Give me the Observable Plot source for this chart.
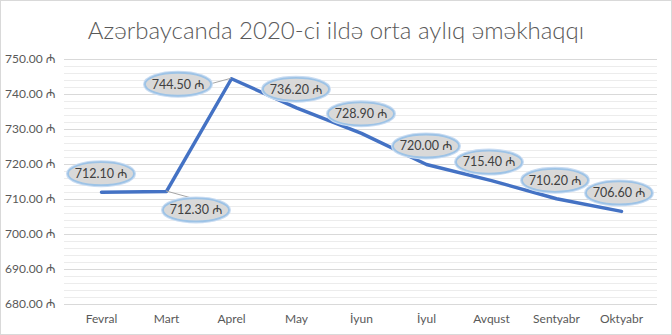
<!DOCTYPE html>
<html>
<head>
<meta charset="utf-8">
<script src="https://cdn.jsdelivr.net/npm/d3@7"></script>
<script src="https://cdn.jsdelivr.net/npm/@observablehq/plot@0.6"></script>
<style>
  html, body { margin: 0; padding: 0; background: #fff; }
  #wrap { width: 672px; height: 335px; box-sizing: border-box; border: 1px solid #d9d9d9; background: #fff; overflow: hidden; }
  #title { height: 48px; line-height: 58px; text-align: center; font-family: Lato, "Noto Sans", sans-serif; font-weight: 300; font-size: 24px; color: #595959; white-space: nowrap; }
  svg { display: block; }
</style>
</head>
<body>
<div id="wrap">
  <div id="title">Azərbaycanda 2020-ci ildə orta aylıq əməkhaqqı</div>
  <div id="chart"></div>
</div>
<script>
const months = ["Fevral", "Mart", "Aprel", "May", "İyun", "İyul", "Avqust", "Sentyabr", "Oktyabr"];
const values = [712.10, 712.30, 744.50, 736.20, 728.90, 720.00, 715.40, 710.20, 706.60];
const yTicks = [680, 690, 700, 710, 720, 730, 740, 750];
const yMinor = d3.range(680, 751, 2);

// label placement (pixel offsets from the point) and leader-line ends
const labelOffsets = [[0,-18],[30,19],[-53,6],[0,-18],[0,-19],[0,-18],[-2,-18],[-1,-18],[-2,-18]];
const leaderEnds = [null,[29,8],[-22,6],null,null,null,null,null,null];

const data = months.map((m, i) => ({month: m, value: values[i]}));
const fmt = v => v.toFixed(2) + " ₼";

function labels(index, scales) {
  const x = scales.x, y = scales.y;
  const g = d3.create("svg:g");
  data.forEach((d, i) => {
    const px = x(d.month), py = y(d.value);
    const cx = px + labelOffsets[i][0], cy = py + labelOffsets[i][1];
    if (leaderEnds[i]) {
      g.append("line").attr("x1", px).attr("y1", py)
        .attr("x2", px + leaderEnds[i][0]).attr("y2", py + leaderEnds[i][1])
        .attr("stroke", "#a6a6a6").attr("stroke-width", 1);
    }
    g.append("ellipse").attr("cx", cx).attr("cy", cy).attr("rx", 33).attr("ry", 11.5)
      .attr("fill", "none").attr("stroke", "#c9dcf2").attr("stroke-width", 4);
    g.append("ellipse").attr("cx", cx).attr("cy", cy).attr("rx", 33).attr("ry", 11.5)
      .attr("fill", "#d9d9d9").attr("stroke", "#9dc3e6").attr("stroke-width", 1.8);
    g.append("text").attr("x", cx).attr("y", cy).attr("dy", "0.35em")
      .attr("text-anchor", "middle").attr("fill", "#404040")
      .attr("font-family", "Lato, 'Noto Sans', sans-serif").attr("font-size", 12.5)
      .text(fmt(d.value));
  });
  return g.node();
}

const chart = Plot.plot({
  width: 670,
  height: 285,
  marginLeft: 63,
  marginRight: 14,
  marginTop: 10,
  marginBottom: 30,
  style: {fontFamily: "Lato, 'Noto Sans', sans-serif", fontSize: "12px", color: "#595959", background: "transparent"},
  x: {type: "point", domain: months, padding: 0.5, label: null},
  y: {domain: [680, 750], label: null},
  marks: [
    Plot.ruleY(yMinor.filter(v => v % 10 !== 0), {stroke: "#ececec", strokeWidth: 1}),
    Plot.ruleY(yTicks, {stroke: "#d9d9d9", strokeWidth: 1}),
    Plot.axisY({ticks: yTicks, tickFormat: fmt, tickSize: 0, tickPadding: 9, fill: "#595959"}),
    Plot.axisX({tickSize: 0, tickPadding: 10, fill: "#595959"}),
    Plot.line(data, {x: "month", y: "value", stroke: "#4472c4", strokeWidth: 3.5, strokeLinejoin: "round", strokeLinecap: "round"}),
    labels
  ]
});
document.getElementById("chart").appendChild(chart);
</script>
</body>
</html>
